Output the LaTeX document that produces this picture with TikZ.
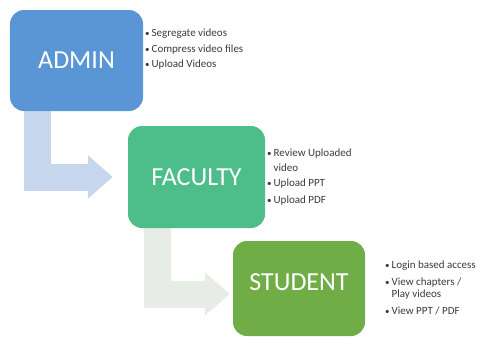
\documentclass[tikz,border=0pt]{standalone}
\usepackage{fontspec}
\setmainfont{Carlito}
\usetikzlibrary{arrows.meta,backgrounds}

\definecolor{adminblue}{HTML}{5A96D5}
\definecolor{facultygreen}{HTML}{4DBE8A}
\definecolor{studentgreen}{HTML}{70AD47}
\definecolor{flowblue}{HTML}{C6D6EC}
\definecolor{flowgrey}{HTML}{E7ECE6}
\definecolor{listgrey}{HTML}{3A3A3A}

\newcommand{\itm}{{\small\textbullet}}

\begin{document}
\begin{tikzpicture}[x=1bp,y=-1bp,
  rolebox/.style={rectangle, rounded corners=14bp, inner sep=0pt,
    text=white, font=\fontsize{26bp}{30bp}\selectfont},
  tasklist/.style={inner sep=0pt, text=listgrey,
    font=\fontsize{11bp}{12.5bp}\selectfont},
  flow/.style={line width=27bp, line join=miter, shorten >=#1,
    -{Triangle[length=25bp 0 0, width=42bp 0 0]}}
]
\useasboundingbox (0,0) rectangle (478,337);

% role boxes
\node[rolebox, fill=adminblue, minimum width=133bp, minimum height=101bp]
  (admin) at (76.5,60.5) {ADMIN};
\node[rolebox, fill=facultygreen, minimum width=137bp, minimum height=102bp]
  (faculty) at (196.5,177) {FACULTY};
\node[rolebox, fill=studentgreen, minimum width=132bp, minimum height=95bp,
  text height=16bp, text depth=12.2bp]
  (student) at (299,288.5) {STUDENT};

% task lists
\node[tasklist, anchor=base west] (admintasks) at (145,36.5)
  {\begin{tabular}[t]{@{}l@{\hspace{2bp}}l@{}}
   \itm & Segregate videos\\[3bp]
   \itm & Compress video files\\[3bp]
   \itm & Upload Videos
   \end{tabular}};
\node[tasklist, anchor=base west] (facultytasks) at (267,156.5)
  {\begin{tabular}[t]{@{}l@{\hspace{2bp}}l@{}}
   \itm & Review Uploaded\\[2.5bp]
        & video\\[2.5bp]
   \itm & Upload PPT\\[4.5bp]
   \itm & Upload PDF
   \end{tabular}};
\node[tasklist, anchor=base west] (studenttasks) at (385,268.5)
  {\begin{tabular}[t]{@{}l@{\hspace{2bp}}l@{}}
   \itm & Login based access\\[4.5bp]
   \itm & View chapters /\\[-1bp]
        & Play videos\\[4.5bp]
   \itm & View PPT / PDF
   \end{tabular}};

% bent arrows behind the boxes
\begin{scope}[on background layer]
  \draw[flow=15bp, draw=flowblue]
    ([xshift=28bp]admin.south west) |- (faculty.west);
  \draw[flow=3bp, draw=flowgrey]
    ([xshift=29.5bp]faculty.south west) |- ([yshift=-5.5bp]student.west);
\end{scope}
\end{tikzpicture}
\end{document}
